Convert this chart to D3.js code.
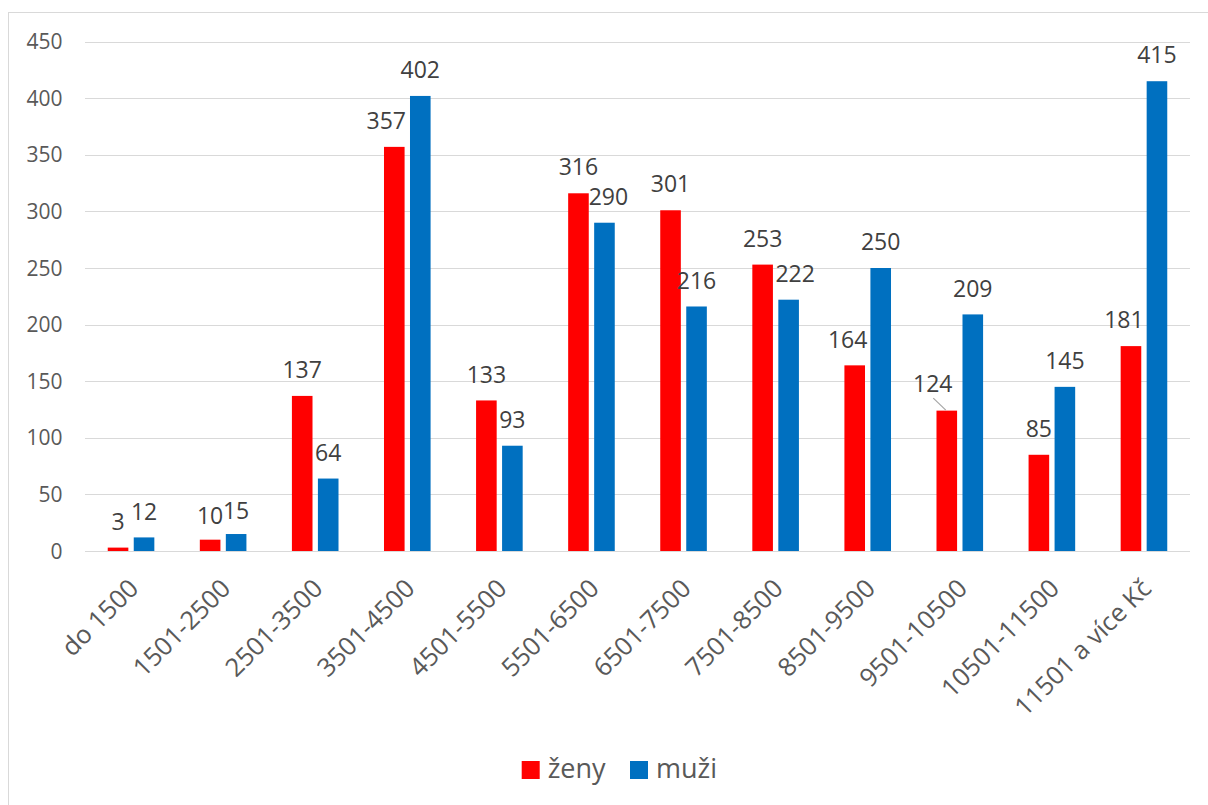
<!DOCTYPE html>
<html>
<head>
<meta charset="utf-8">
<script src="https://cdn.jsdelivr.net/npm/d3@7"></script>
<style>
  html, body { margin: 0; padding: 0; background: #fff; }
  svg { display: block; font-family: "Open Sans", "Noto Sans", sans-serif; }
</style>
</head>
<body>
<svg id="chart" width="1208" height="805"></svg>
<script>
// Income bands and counts per group
const categories = ["do 1500", "1501-2500", "2501-3500", "3501-4500", "4501-5500", "5501-6500",
  "6501-7500", "7501-8500", "8501-9500", "9501-10500", "10501-11500", "11501 a více Kč"];
const zeny = [3, 10, 137, 357, 133, 316, 301, 253, 164, 124, 85, 181];
const muzi = [12, 15, 64, 402, 93, 290, 216, 222, 250, 209, 145, 415];
const seriesNames = ["ženy", "muži"];
const yTicks = [0, 50, 100, 150, 200, 250, 300, 350, 400, 450];

const colors = ["#FF0000", "#0070C0"];

// Label nudges (px) where labels are shifted off the bar centre
const labelNudge = {
  "0-3": [-8, 0], "1-5": [4, 0], "1-7": [6.5, 0], "0-8": [-7, 0],
  "0-9": [-14, -1], "0-11": [-7, 0], "0-1": [0, 2], "1-1": [0, 3]
};

const svg = d3.select("#chart");

// chart frame
svg.append("rect")
  .attr("x", 8.5).attr("y", 12.5)
  .attr("width", 1220).attr("height", 820)
  .attr("fill", "#fff").attr("stroke", "#D9D9D9").attr("stroke-width", 1);

const plotLeft = 85, plotRight = 1190, plotTop = 41.6, plotBottom = 551;

const x = d3.scaleBand().domain(categories).range([plotLeft, plotRight]).paddingInner(0).paddingOuter(0);
const y = d3.scaleLinear().domain([0, 450]).range([plotBottom, plotTop]);

// horizontal gridlines
svg.append("g").selectAll("line").data(yTicks).join("line")
  .attr("x1", plotLeft).attr("x2", plotRight)
  .attr("y1", d => Math.round(y(d)) + 0.5).attr("y2", d => Math.round(y(d)) + 0.5)
  .attr("stroke", "#D9D9D9").attr("stroke-width", 1.2);

// y-axis tick labels
svg.append("g").selectAll("text").data(yTicks).join("text")
  .attr("x", 62.5).attr("y", d => y(d) + 7.6)
  .attr("text-anchor", "end")
  .attr("font-size", 21).attr("fill", "#595959")
  .text(d => d);

// bars
const barW = 20.6, gap = 5.4;
const series = [zeny, muzi];
const bw = x.bandwidth();
const groupW = barW * 2 + gap;
const barX = (i, s) => x(categories[i]) + bw / 2 - groupW / 2 + s * (barW + gap);

series.forEach((vals, s) => {
  svg.append("g").selectAll("rect").data(vals).join("rect")
    .attr("x", (d, i) => barX(i, s))
    .attr("y", d => y(d))
    .attr("width", barW)
    .attr("height", d => y(0) - y(d))
    .attr("fill", colors[s]);
});

// leader line for a displaced label
{
  const i = 9;
  const cx = barX(i, 0) + barW / 2;
  svg.append("line")
    .attr("x1", cx - 13.5).attr("y1", y(zeny[i]) - 12.5)
    .attr("x2", cx - 1).attr("y2", y(zeny[i]) - 0.5)
    .attr("stroke", "#A6A6A6").attr("stroke-width", 1.2);
}

// data labels
series.forEach((vals, s) => {
  svg.append("g").selectAll("text").data(vals).join("text")
    .attr("x", (d, i) => barX(i, s) + barW / 2 + (labelNudge[s + "-" + i] || [0, 0])[0])
    .attr("y", (d, i) => y(d) - 17.8 + (labelNudge[s + "-" + i] || [0, 0])[1])
    .attr("text-anchor", "middle")
    .attr("font-size", 23).attr("fill", "#404040")
    .text(d => d);
});

// category labels, rotated
svg.append("g").selectAll("text").data(categories).join("text")
  .attr("transform", d => `translate(${x(d) + bw / 2 + 9},${590}) rotate(-45)`)
  .attr("text-anchor", "end")
  .attr("font-size", 25.5).attr("fill", "#595959")
  .text(d => d);

// legend
const legend = svg.append("g");
const legendItems = [
  { name: seriesNames[0], color: colors[0], x: 521.7 },
  { name: seriesNames[1], color: colors[1], x: 630 }
];
legendItems.forEach(it => {
  legend.append("rect").attr("x", it.x).attr("y", 761).attr("width", 18).attr("height", 18)
    .attr("fill", it.color);
  legend.append("text").attr("x", it.x + 26).attr("y", 777.5)
    .attr("font-size", 27).attr("fill", "#595959").text(it.name);
});
</script>
</body>
</html>
